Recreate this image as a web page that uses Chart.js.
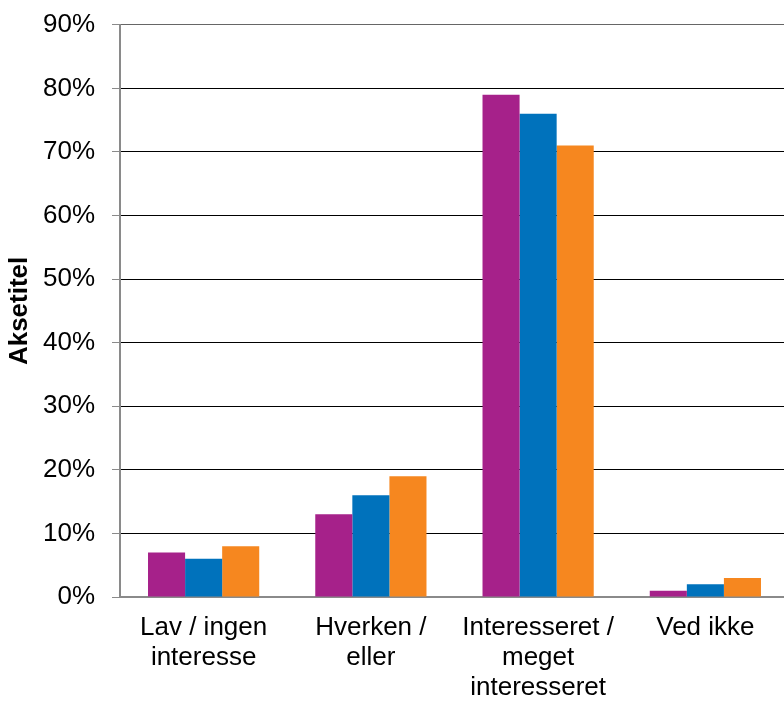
<!DOCTYPE html>
<html>
<head>
<meta charset="utf-8">
<script src="https://cdn.jsdelivr.net/npm/chart.js@4/dist/chart.umd.min.js"></script>
<style>
  html, body { margin: 0; padding: 0; background: #fff; overflow: hidden; }
  #wrap { width: 790px; height: 701px; }
</style>
</head>
<body>
<div id="wrap"><canvas id="interesseChart" width="790" height="701"></canvas></div>
<script>
// categories and series (percent)
const categories = [
  ['Lav / ingen', 'interesse'],
  ['Hverken /', 'eller'],
  ['Interesseret /', 'meget', 'interesseret'],
  ['Ved ikke']
];
const seriesA = [7, 13, 79, 1];
const seriesB = [6, 16, 76, 2];
const seriesC = [8, 19, 71, 3];
const yTicks = [0, 10, 20, 30, 40, 50, 60, 70, 80, 90];

const colors = ['#A6218A', '#0072BC', '#F6871F'];

const ctx = document.getElementById('interesseChart').getContext('2d');
const chart = new Chart(ctx, {
  type: 'bar',
  data: {
    labels: categories,
    datasets: [
      { label: 'Serie 1', data: seriesA, backgroundColor: colors[0] },
      { label: 'Serie 2', data: seriesB, backgroundColor: colors[1] },
      { label: 'Serie 3', data: seriesC, backgroundColor: colors[2] }
    ]
  },
  options: {
    responsive: false,
    animation: false,
    layout: { padding: { top: 23, right: 1, left: 0, bottom: 0 } },
    datasets: {
      bar: { categoryPercentage: 0.665, barPercentage: 1.0 }
    },
    plugins: {
      legend: { display: false },
      tooltip: { enabled: false }
    },
    scales: {
      x: {
        grid: { display: false, drawTicks: false },
        border: { display: true, color: '#8a8a8a', width: 2 },
        ticks: {
          color: '#000',
          padding: 16,
          maxRotation: 0,
          font: { family: 'Liberation Sans, Arial, sans-serif', size: 26, lineHeight: 1.15 }
        },
        afterFit: function (scale) { scale.height = 104; }
      },
      y: {
        min: 0,
        max: 90,
        afterBuildTicks: function (scale) {
          scale.ticks = yTicks.map(v => ({ value: v }));
        },
        grid: {
          color: function (c) {
            if (c.tick && c.tick.value === 0) return 'rgba(0,0,0,0)';
            if (c.tick && c.tick.value === 90) return '#666';
            return '#000';
          },
          lineWidth: 1,
          drawTicks: true,
          tickLength: 8,
          tickColor: '#8a8a8a'
        },
        border: { display: true, color: '#8a8a8a', width: 2 },
        ticks: {
          color: '#000',
          padding: 17,
          font: { family: 'Liberation Sans, Arial, sans-serif', size: 26, lineHeight: 0.6 },
          callback: function (v) { return v + '%'; }
        },
        title: {
          display: true,
          text: 'Aksetitel',
          color: '#000',
          padding: { top: 4, bottom: 0 },
          font: { family: 'Liberation Sans, Arial, sans-serif', size: 26, weight: 'bold' }
        },
        afterFit: function (scale) { scale.width = 120; }
      }
    }
  }
});
</script>
</body>
</html>
